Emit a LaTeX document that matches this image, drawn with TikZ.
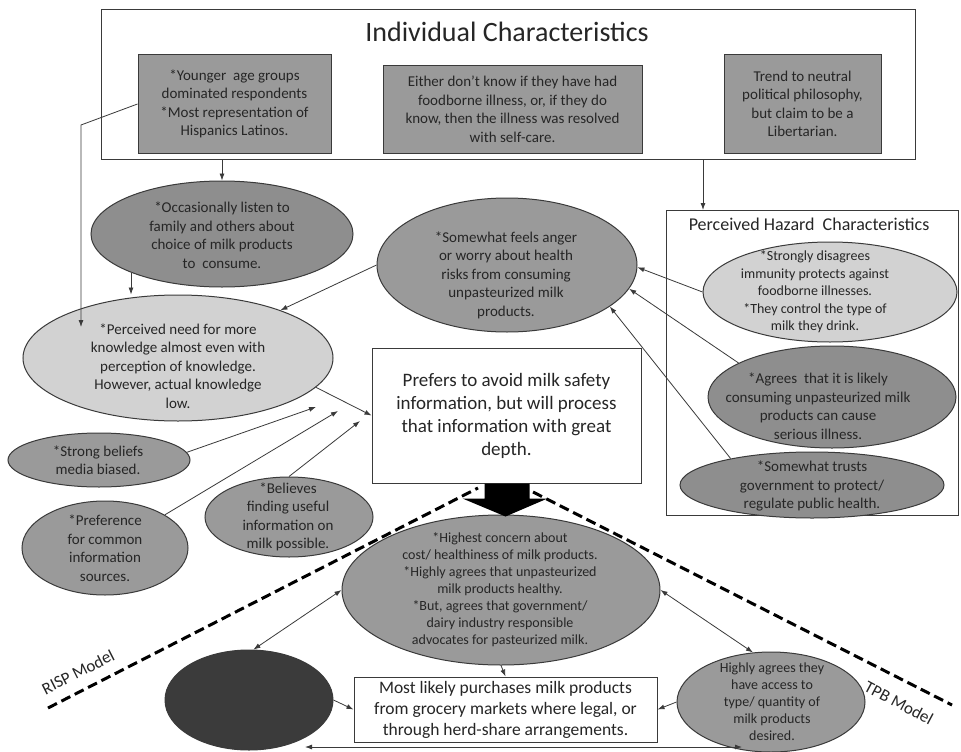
\documentclass[tikz,border=0pt]{standalone}
\usepackage{fontspec}
\setmainfont{Carlito}
\usetikzlibrary{shapes.geometric,arrows.meta}

\definecolor{ink}{HTML}{262626}
\definecolor{edge}{HTML}{3A3A3A}
\definecolor{midfill}{HTML}{9A9A9A}
\definecolor{deepfill}{HTML}{8E8E8E}
\definecolor{lightfill}{HTML}{D2D2D2}
\definecolor{darkfill}{HTML}{3B3B3B}

\begin{document}
\begin{tikzpicture}[x=1pt,y=-1pt,
  every node/.style={font=\fontsize{15}{18.5}\selectfont, text=ink},
  ell/.style={ellipse, draw=edge, line width=1pt, inner sep=0pt},
  frame/.style={rectangle, draw=edge, line width=1pt, inner sep=0pt},
  graybox/.style={frame, fill=midfill, align=center},
  txt/.style={align=center, inner sep=0pt},
  smalltxt/.style={txt, font=\fontsize{14}{17}\selectfont},
  arr/.style={draw=edge, line width=0.8pt, -{Latex[length=7pt,width=5pt]}},
  darr/.style={draw=edge, line width=0.8pt, {Latex[length=7pt,width=5pt]}-{Latex[length=7pt,width=5pt]}},
  modelline/.style={draw=black, line width=3pt, dash pattern=on 10pt off 5pt},
  modeltxt/.style={font=\fontsize{17}{20}\selectfont, inner sep=0pt}]

\path[use as bounding box, fill=white] (0,0) rectangle (961,752);

% ---- Individual characteristics ----
\node[frame, minimum width=814pt, minimum height=149pt] (ic) at (508,84.5) {};
\node[txt, font=\fontsize{28}{32}\selectfont] (ic-title) at (507,32) {Individual Characteristics};
\node[graybox, minimum width=193pt, minimum height=98pt] (y1) at (234.5,104)
  {*Younger\ \ age groups\\dominated respondents\\*Most representation of\\Hispanics Latinos.};
\node[graybox, minimum width=259pt, minimum height=87pt] (y2) at (512.5,109.5)
  {Either don't know if they have had\\foodborne illness, or, if they do\\know, then the illness was resolved\\with self-care.};
\node[graybox, minimum width=157pt, minimum height=98pt] (y3) at (802.5,104)
  {Trend to neutral\\political philosophy,\\but claim to be a\\Libertarian.};

% ---- Perceived hazard characteristics ----
\node[frame, minimum width=292pt, minimum height=305pt] (haz) at (812,362.5) {};
\node[txt, font=\fontsize{18}{22}\selectfont] (haz-title) at (809,224) {Perceived Hazard\ \ Characteristics};
\node[ell, fill=lightfill, minimum width=254pt, minimum height=100pt] (h1) at (830,292) {};
\node[txt, font=\fontsize{14}{17.5}\selectfont] (h1-t) at (815,292)
  {*Strongly disagrees\\immunity protects against\\foodborne illnesses.\\*They control the type of\\milk they drink.};
\node[ell, fill=deepfill, minimum width=248pt, minimum height=102pt] (h2) at (832,397) {};
\node[txt] (h2-t) at (818,406)
  {*Agrees\ \ that it is likely\\consuming unpasteurized milk\\products can cause\\serious illness.};
\node[ell, fill=deepfill, minimum width=264pt, minimum height=66pt] (h3) at (812,485) {};
\node[txt] (h3-t) at (812,486)
  {*Somewhat trusts\\government to protect/\\regulate public health.};

% ---- Left-hand ellipses ----
\node[ell, fill=deepfill, minimum width=262pt, minimum height=106pt] (occ) at (222,234) {};
\node[txt] (occ-t) at (222,235)
  {*Occasionally listen to\\family and others about\\choice of milk products\\to\ \ consume.};
\node[ell, fill=lightfill, minimum width=310pt, minimum height=126pt] (perc) at (178,358) {};
\node[txt] (perc-t) at (178,366)
  {*Perceived need for more\\knowledge almost even with\\perception of knowledge.\\However, actual knowledge\\low.};
\node[ell, fill=midfill, minimum width=260pt, minimum height=134pt] (ang) at (507,265) {};
\node[txt] (ang-t) at (506,275)
  {*Somewhat feels anger\\or worry about health\\risks from consuming\\unpasteurized milk\\products.};
\node[ell, fill=midfill, minimum width=182pt, minimum height=54pt] (sb) at (99,460) {};
\node[txt] (sb-t) at (98,460) {*Strong beliefs\\media biased.};
\node[ell, fill=midfill, minimum width=166pt, minimum height=94pt] (pref) at (105,548) {};
\node[txt] (pref-t) at (105,548) {*Preference\\for common\\information\\sources.};
\node[ell, fill=midfill, minimum width=168pt, minimum height=80pt] (bel) at (289,517) {};
\node[txt] (bel-t) at (288,517) {*Believes\\finding useful\\information on\\milk possible.};

% ---- Central box ----
\node[frame, fill=white, minimum width=269pt, minimum height=135pt, align=center,
      font=\fontsize{19}{23}\selectfont] (cb) at (506.5,415.5)
  {Prefers to avoid milk safety\\information, but will process\\that information with great\\depth.};

% ---- Model boundaries ----
\coordinate (risp-a) at (48,708);
\coordinate (risp-b) at (478,488);
\coordinate (tpb-a) at (533,492);
\coordinate (tpb-b) at (952,705);
\draw[modelline] (risp-a) -- (risp-b);
\draw[modelline] (tpb-a) -- (tpb-b);
\node[modeltxt, rotate=27] (risp-t) at (78,672) {RISP Model};
\node[modeltxt, rotate=-28] (tpb-t) at (899,703) {TPB Model};

% ---- Lower ellipses and box ----
\node[ell, fill=midfill, minimum width=318pt, minimum height=150pt] (hi) at (501,590) {};
\node[smalltxt] (hi-t) at (500,590)
  {*Highest concern about\\cost/ healthiness of milk products.\\*Highly agrees that unpasteurized\\milk products healthy.\\*But, agrees that government/\\dairy industry responsible\\advocates for pasteurized milk.};
\node[ell, fill=darkfill, minimum width=168pt, minimum height=100pt] (dk) at (249,700) {};
\node[ell, fill=midfill, minimum width=188pt, minimum height=100pt] (ra) at (771,702) {};
\node[smalltxt] (ra-t) at (772,702)
  {Highly agrees they\\have access to\\type/ quantity of\\milk products\\desired.};
\node[frame, fill=white, minimum width=303pt, minimum height=65pt, align=center,
      font=\fontsize{17.5}{21}\selectfont] (bb) at (505.5,709.5)
  {Most likely purchases milk products\\from grocery markets where legal, or\\through herd-share arrangements.};

% ---- Block arrow from the central box ----
\coordinate (bs) at (cb.south);
\fill[black] (bs) ++(-22,0) -- ++(45,0) -- ++(0,15) -- ++(18,0) -- ++(-42,18)
  -- ++(-43,-18) -- ++(22,0) -- cycle;

% ---- Connectors ----
\coordinate (k1) at (81,125);
\coordinate (k2) at (81,327);
\draw[arr] (y1.west) -- (k1) -- (k2);
\draw[arr] (occ.north |- ic.south) -- (occ.north);
\coordinate (hz) at (703,210);
\draw[arr] (hz |- ic.south) -- (hz);
\draw[arr] (occ.203) -- (occ.203 |- perc.north);
\draw[arr] (ang.west) -- (perc.25);
\draw[arr] (perc.-12) -- (cb.west);

\coordinate (t1) at (316,407);
\coordinate (t2) at (338,411);
\coordinate (t3) at (360,421);
\draw[arr] (sb.5) -- (t1);
\draw[arr] (pref.29) -- (t2);
\draw[arr] (bel.north) -- (t3);

\draw[arr] (h1.west) -- (ang.-1);
\draw[arr] (h2.160) -- (ang.-11);
\draw[arr] (h3.162) -- (ang.-22);

\draw[darr] (dk.85) -- (hi.west);
\draw[darr] (hi.east) -- (ra.110);
\draw[arr] (hi.south) -- (bb.north);
\draw[arr] (dk.east) -- (bb.west);
\draw[arr] (ra.west) -- (bb.east);
\coordinate (bl) at (305,747);
\coordinate (br) at (742,747);
\draw[darr] (bl) -- (br);

\end{tikzpicture}
\end{document}
